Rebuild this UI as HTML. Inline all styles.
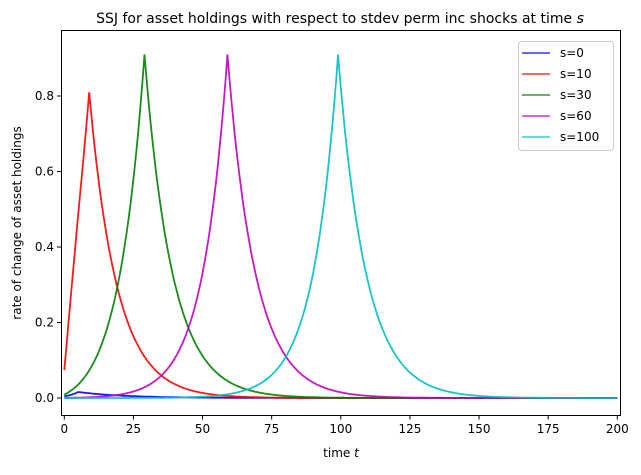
<!DOCTYPE html><html><head><style>body{margin:0;background:#fff}svg{font-family:"DejaVu Sans","Liberation Sans",sans-serif}</style></head><body>
<svg id="s" width="641" height="470" xmlns="http://www.w3.org/2000/svg">
<rect width="641" height="470" fill="#fff"/>
<text x="340" y="23" font-size="14" text-anchor="middle">SSJ for asset holdings with respect to stdev perm inc shocks at time <tspan font-style="italic">s</tspan></text>
<g id="plot"></g>
<rect x="61.5" y="30.5" width="559" height="385" fill="none" stroke="#000" stroke-width="1"/>
<g font-size="12" text-anchor="middle" id="xt"></g>
<g font-size="12" text-anchor="end" id="yt"></g>
<text x="341" y="457" font-size="12" text-anchor="middle">time <tspan font-style="italic">t</tspan></text>
<text transform="translate(21,223) rotate(-90)" font-size="12" text-anchor="middle">rate of change of asset holdings</text>
<g>
<rect x="518.5" y="41.5" width="95" height="109" rx="3" fill="#fff" stroke="#ccc"/>
<g font-size="12">
<line x1="522" x2="550" y1="53" y2="53" stroke="#0000ff" stroke-opacity=".8" stroke-width="1.5"/><text x="560" y="57">s=0</text>
<line x1="522" x2="550" y1="74" y2="74" stroke="#ff0000" stroke-opacity=".8" stroke-width="1.5"/><text x="560" y="78">s=10</text>
<line x1="522" x2="550" y1="95" y2="95" stroke="#008000" stroke-opacity=".8" stroke-width="1.5"/><text x="560" y="99">s=30</text>
<line x1="522" x2="550" y1="116" y2="116" stroke="#bf00bf" stroke-opacity=".8" stroke-width="1.5"/><text x="560" y="120">s=60</text>
<line x1="522" x2="550" y1="137" y2="137" stroke="#00bfbf" stroke-opacity=".8" stroke-width="1.5"/><text x="560" y="141">s=100</text>
</g></g>
</svg>
<script>
var X=t=>64.3+2.765*t, Y=v=>398-v*377.5;
var ns="http://www.w3.org/2000/svg";
function el(p,n,a,txt){var e=document.createElementNS(ns,n);for(var k in a)e.setAttribute(k,a[k]);if(txt!=null)e.textContent=txt;document.getElementById(p).appendChild(e);}
for(var t=0;t<=200;t+=25){el('xt','line',{x1:X(t),x2:X(t),y1:415,y2:419.5,stroke:'#000'});el('xt','text',{x:X(t),y:433},t);}
for(var i=0;i<=4;i++){var v=i*0.2;el('yt','line',{x1:57,x2:61.5,y1:Y(v),y2:Y(v),stroke:'#000'});el('yt','text',{x:54,y:Y(v)+4},v.toFixed(1));}
function f(s,pk,t){ if(s==0){return 0.016*Math.exp(-Math.abs(t-5)*(t<5?0.25:0.06));}
 if(t<=s){var d=s-t,r=d/s;return pk*Math.exp(-0.112*d)*(1-0.75*r*r*r);} return pk*Math.exp(-0.1*(t-s));}
var S=[[0,0,'#0000ff'],[10,0.81,'#ff0000'],[30,0.91,'#008000'],[60,0.91,'#bf00bf'],[100,0.91,'#00bfbf']];
S.forEach(function(q){var s=q[0]==0?0:q[0]-1,d='';for(var t=0;t<=200;t+=0.5){d+=(t?'L':'M')+X(t).toFixed(1)+','+Y(f(s,q[1],t)).toFixed(1);}
 el('plot','path',{d:d,fill:'none',stroke:q[2],'stroke-width':1.8,'stroke-opacity':.9});});
</script>
</body></html>
